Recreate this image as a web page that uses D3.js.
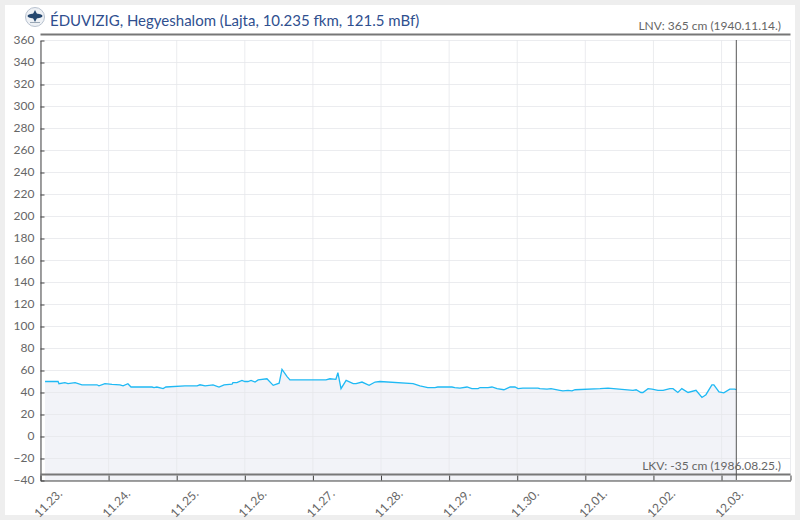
<!DOCTYPE html>
<html>
<head>
<meta charset="utf-8">
<script src="https://cdn.jsdelivr.net/npm/d3@7"></script>
<style>
    html, body { margin: 0; padding: 0; background: #eeeeee; }
    svg { display: block; }
    text { font-family: Lato, sans-serif; }
    .tick text { font-family: Lato, sans-serif; font-size: 12px; fill: #666; }
</style>
</head>
<body>
<svg id="chart" width="800" height="520"></svg>
<script>
// hours counted from 11.23. 00:00
const hours = [1.6, 6.2, 6.5, 8.6, 9.7, 12.2, 14.6, 19.9, 20.6, 22.7, 25.2, 28, 29.1, 30.8, 31.9, 39.3, 40, 41, 43.2, 44.2,
    50.9, 55.2, 56.2, 58, 60.8, 62.9, 64.7, 67.5, 67.8, 69.2, 71, 72, 73.1, 74.2, 75.6, 76.7, 79.8, 82, 84.1, 85.1, 86.9, 87.9,
    100.6, 102, 104.1, 104.8, 105.9, 107.7, 110.2, 111.2, 113.3, 115.8, 117.9, 119.6, 131.3, 133.7, 136.5, 139, 140, 145, 146, 147.8,
    150.3, 152, 154.2, 154.9, 157.7, 159.1, 160.9, 163.3, 165.5, 167.2, 168.3, 170, 175.3, 176, 178.5, 179.9, 183, 184.1, 185.9, 187.3, 188.4,
    197.2, 200, 208.8, 209.9, 211.6, 212.3, 214.1, 215.5, 217.6, 219.4, 221.8, 222.9, 224.6, 226, 228.2, 231, 233.1, 234.5, 236.6, 237.3, 239.1, 240.8, 242.9, 244.7, 245.2];
const levels = [50, 50, 48, 49, 48, 49, 47, 47, 46, 48, 47.3, 47, 46, 48, 45, 45, 44.5, 45, 43.5, 45,
    46, 46, 47, 46, 47, 45, 47, 47.5, 49, 49, 51, 50, 50, 51, 49.5, 51.5, 52.5, 46.5, 48.5, 61, 54.5, 51.5,
    51.5, 52.5, 52, 58, 43.5, 51, 48, 48, 49.5, 46.5, 49.5, 50, 48, 46, 44.5, 44.5, 45, 45, 44.5, 44,
    45, 43.5, 43.5, 44.5, 44.5, 45, 43.5, 42.5, 45, 45, 43.5, 44, 44, 43.5, 43, 43.5, 42, 41.5, 42, 41.5, 42.5,
    43.5, 44, 42, 42.5, 40, 40, 43.5, 43, 42, 42, 43.5, 43.5, 40, 43.5, 40, 42, 35.5, 38, 47, 47, 40.5, 39.7, 43, 43, 42.5];

const dayLabels = ["11.23.", "11.24.", "11.25.", "11.26.", "11.27.", "11.28.", "11.29.", "11.30.", "12.01.", "12.02.", "12.03."];
const dayHours = [0, 24, 48, 72, 96, 120, 144, 168, 192, 216, 240];
const yTicks = [-40, -20, 0, 20, 40, 60, 80, 100, 120, 140, 160, 180, 200, 220, 240, 260, 280, 300, 320, 340, 360];

const lnv = 365, lkv = -35, nowHour = 245.2;
const titleText = "ÉDUVIZIG, Hegyeshalom (Lajta, 10.235 fkm, 121.5 mBf)";
const lnvText = "LNV: 365 cm (1940.11.14.)";
const lkvText = "LKV: -35 cm (1986.08.25.)";

const left = 40.5, right = 790.5, top_ = 40, bottom = 480;

const svg = d3.select("#chart");

// white card
svg.append("rect").attr("x", 5).attr("y", 5).attr("width", 790).attr("height", 510).attr("fill", "#fff");

const xScale = d3.scaleLinear().domain([0, 264.3]).range([left, right]);
const yScale = d3.scaleLinear().domain([-40, 360]).range([bottom, top_]);

const data = hours.map((h, i) => ({ h: h, v: levels[i] }));

// area below the water level
const area = d3.area()
    .x(d => xScale(d.h))
    .y0(yScale(-40))
    .y1(d => yScale(d.v));

svg.append("path").datum(data)
    .attr("transform", "translate(0,0.5)")
    .attr("fill", "#f2f3f8")
    .attr("d", area);

// grid
const grid = svg.append("g");
grid.selectAll("line.h").data(yTicks).join("line")
    .attr("x1", left).attr("x2", right)
    .attr("y1", d => yScale(d) + 0.5).attr("y2", d => yScale(d) + 0.5)
    .attr("stroke", "#e6e7eb").attr("stroke-opacity", 0.8);
grid.selectAll("line.v").data(dayHours.concat([264.3])).join("line")
    .attr("x1", d => xScale(d)).attr("x2", d => xScale(d))
    .attr("y1", top_).attr("y2", bottom)
    .attr("stroke", "#e6e7eb").attr("stroke-opacity", 0.8);

// water level
const line = d3.line().x(d => xScale(d.h)).y(d => yScale(d.v));
svg.append("path").datum(data)
    .attr("transform", "translate(0,0.5)")
    .attr("fill", "none")
    .attr("stroke", "#1fb9f4")
    .attr("stroke-width", 1.3)
    .attr("d", line);

// axes
const yAxis = svg.append("g")
    .attr("transform", `translate(${left},0.5)`)
    .call(d3.axisLeft(yScale).tickValues(yTicks).tickFormat(d3.format("d")).tickSizeInner(-4).tickSizeOuter(0).tickPadding(6));
yAxis.selectAll(".domain, .tick line").attr("stroke", "#444");
yAxis.selectAll(".tick text").attr("dy", "0.28em");

const xAxis = svg.append("g")
    .attr("transform", `translate(0,${bottom + 0.5})`)
    .call(d3.axisBottom(xScale).tickValues(dayHours.concat([264.3]))
        .tickFormat((d, i) => dayLabels[i] || "")
        .tickSizeInner(-5).tickSizeOuter(0));
xAxis.selectAll(".domain, .tick line").attr("stroke", "#444");
xAxis.selectAll(".tick text")
    .attr("text-anchor", "end")
    .attr("x", 0).attr("y", 0).attr("dy", 0)
    .attr("transform", "translate(22,14) rotate(-45)");

// LNV / LKV lines
[lnv, lkv].forEach(v => {
    svg.append("line")
        .attr("x1", left).attr("x2", right)
        .attr("y1", yScale(v)).attr("y2", yScale(v))
        .attr("stroke", "#777").attr("stroke-width", 2);
});

// now marker
svg.append("line")
    .attr("x1", xScale(nowHour)).attr("x2", xScale(nowHour))
    .attr("y1", top_).attr("y2", bottom)
    .attr("stroke", "#555").attr("stroke-width", 1);

svg.append("text").attr("x", 781).attr("y", 30).attr("text-anchor", "end")
    .style("font-size", "12px").attr("fill", "#666").text(lnvText);
svg.append("text").attr("x", 781).attr("y", 470).attr("text-anchor", "end")
    .style("font-size", "12px").attr("fill", "#666").text(lkvText);

svg.append("text").attr("x", 50).attr("y", 26)
    .style("font-size", "15px").attr("fill", "#2f4f8f").text(titleText);

// logo
const logo = svg.append("g").attr("transform", "translate(35,17)");
logo.append("circle").attr("r", 9.5).attr("fill", "#eef1f5").attr("stroke", "#b8c2cf");
logo.append("ellipse").attr("rx", 7.5).attr("ry", 2.4).attr("cy", -1).attr("fill", "#24476f");
logo.append("path").attr("d", "M0,-7L3,-1L0,5L-3,-1Z").attr("fill", "#24476f");
logo.append("rect").attr("x", -5).attr("y", 5).attr("width", 10).attr("height", 1).attr("fill", "#9aa7b5");
</script>
</body>
</html>
